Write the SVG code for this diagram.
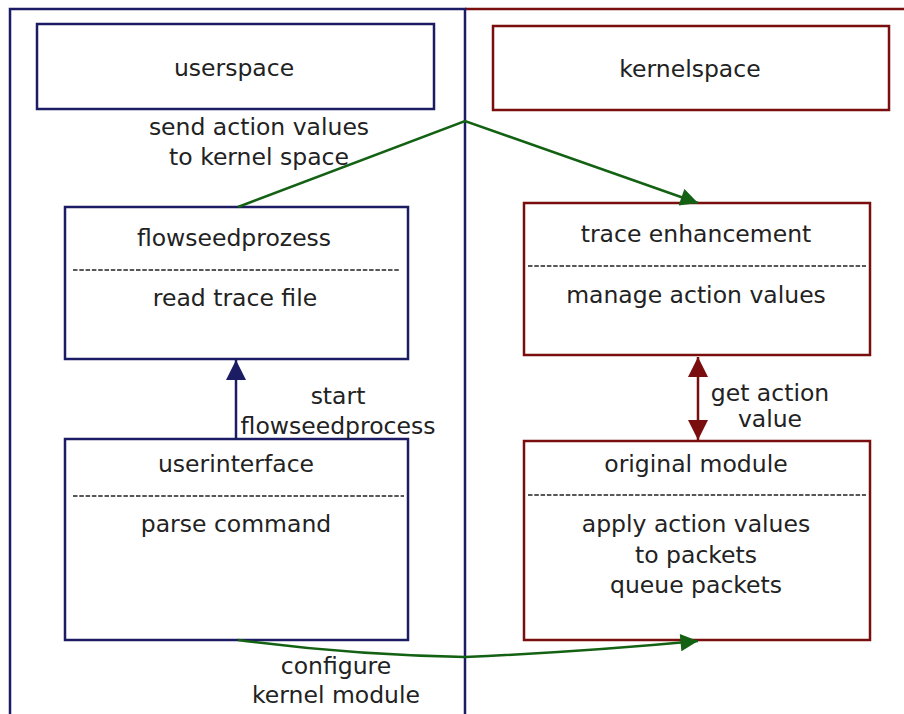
<svg xmlns="http://www.w3.org/2000/svg" width="904" height="714" viewBox="0 0 904 714">
<defs>
<style>
.t{font-family:"DejaVu Sans",sans-serif;font-size:23.5px;fill:#222;text-anchor:middle}
.nv{fill:none;stroke:#1c1c64;stroke-width:2.5}
.rd{fill:none;stroke:#7a0e0e;stroke-width:2.5}
.dash{stroke:#222;stroke-width:1.3;stroke-dasharray:4.5 1.8}
.gr{fill:none;stroke:#136113;stroke-width:2.5}
</style>
<marker id="ag" viewBox="0 0 10 10" refX="10" refY="5" markerWidth="7.5" markerHeight="7" markerUnits="strokeWidth" orient="auto"><path d="M0,0L10,5L0,10z" fill="#136113"/></marker>
<marker id="an" viewBox="0 0 10 10" refX="10" refY="5" markerWidth="8" markerHeight="9" markerUnits="strokeWidth" orient="auto"><path d="M0,0L10,5L0,10z" fill="#1c1c64"/></marker>
<marker id="ar" viewBox="0 0 10 10" refX="10" refY="5" markerWidth="8" markerHeight="9" markerUnits="strokeWidth" orient="auto-start-reverse"><path d="M0,0L10,5L0,10z" fill="#7a0e0e"/></marker>
</defs>
<g id="regions">
<path class="rd" d="M465,9H904"/>
<path class="nv" d="M10,716V9H465V716"/>
</g>
<g id="userspace"><rect class="nv" x="37" y="24" width="397" height="85"/><text class="t" x="234" y="76">userspace</text></g>
<g id="kernelspace"><rect class="rd" x="493" y="26" width="396" height="84"/><text class="t" x="690" y="77">kernelspace</text></g>
<g id="flowseedprozess"><rect class="nv" x="65" y="207" width="343" height="152"/><text class="t" x="234" y="246">flowseedprozess</text><line class="dash" x1="73" y1="270" x2="400" y2="270"/><text class="t" x="235" y="306">read trace file</text></g>
<g id="userinterface"><rect class="nv" x="65" y="439" width="343" height="201"/><text class="t" x="236" y="472">userinterface</text><line class="dash" x1="73" y1="496" x2="404" y2="496"/><text class="t" x="236" y="532">parse command</text></g>
<g id="trace"><rect class="rd" x="524" y="203" width="346" height="152"/><text class="t" x="696" y="242">trace enhancement</text><line class="dash" x1="528" y1="266" x2="866" y2="266"/><text class="t" x="696" y="303">manage action values</text></g>
<g id="original"><rect class="rd" x="524" y="441" width="346" height="199"/><text class="t" x="696" y="472">original module</text><line class="dash" x1="528" y1="495" x2="866" y2="495"/><text class="t" x="696" y="532">apply action values</text><text class="t" x="696" y="563">to packets</text><text class="t" x="696" y="593">queue packets</text></g>
<g id="connectors">
<path class="gr" d="M238,207L465,121L698,203" marker-end="url(#ag)"/>
<path class="nv" d="M236,439V360" marker-end="url(#an)"/>
<path d="M698,357V440" fill="none" stroke="#7a0e0e" stroke-width="2.5" marker-start="url(#ar)" marker-end="url(#ar)"/>
<path class="gr" d="M238,640Q350,655 465,657Q580,652 698,641" marker-end="url(#ag)"/>
</g>
<g id="labels">
<text class="t" x="259" y="135">send action values</text><text class="t" x="259" y="165">to kernel space</text>
<text class="t" x="338" y="404">start</text><text class="t" x="338" y="434">flowseedprocess</text>
<text class="t" x="770" y="401">get action</text><text class="t" x="770" y="427">value</text>
<text class="t" x="336" y="674">configure</text><text class="t" x="336" y="703">kernel module</text>
</g>
</svg>
